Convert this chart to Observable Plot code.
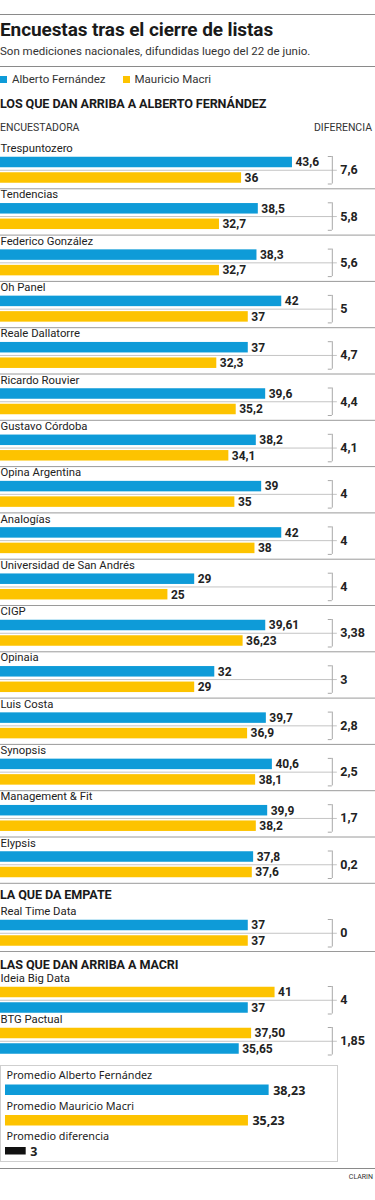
<!DOCTYPE html>
<html><head><meta charset="utf-8">
<script src="https://cdn.jsdelivr.net/npm/d3@7"></script>
<script src="https://cdn.jsdelivr.net/npm/@observablehq/plot@0.6"></script>
<style>
body{margin:0;background:#fff;font-family:Roboto,"Noto Sans",sans-serif;color:#222;}
#root{position:relative;width:375px;height:1200px;overflow:hidden;}
.abs{position:absolute;left:0;white-space:nowrap;}
.rule{position:absolute;left:0;width:375px;height:0;border-top:1px solid #8a8a8a;}
.title{font-size:19px;font-weight:700;line-height:24px;letter-spacing:-0.1px;color:#1a1a1a;}
.sub{font-size:11.5px;line-height:16px;color:#333;}
.legend{font-size:11.5px;line-height:14px;color:#333;}
.sw{display:inline-block;width:7px;height:7px;margin-right:5px;vertical-align:0px;}
.head{font-size:12.6px;font-weight:700;line-height:16px;letter-spacing:-0.1px;color:#1a1a1a;}
.col{font-size:10.5px;line-height:14px;color:#333;}
.box{position:absolute;left:0;border:1px solid #cfcfcf;box-sizing:border-box;}
svg{display:block;}
</style></head><body><div id="root"></div>
<script>
// ---- data ----
const seriesNames = ["Alberto Fernández", "Mauricio Macri"];
const seriesColors = ["#0e9bd8", "#fdc300"];

const pollstersAF = ["Trespuntozero","Tendencias","Federico González","Oh Panel","Reale Dallatorre","Ricardo Rouvier","Gustavo Córdoba","Opina Argentina","Analogías","Universidad de San Andrés","CIGP","Opinaia","Luis Costa","Synopsis","Management & Fit","Elypsis"];
const fernandezAF = [43.6, 38.5, 38.3, 42, 37, 39.6, 38.2, 39, 42, 29, 39.61, 32, 39.7, 40.6, 39.9, 37.8];
const macriAF     = [36, 32.7, 32.7, 37, 32.3, 35.2, 34.1, 35, 38, 25, 36.23, 29, 36.9, 38.1, 38.2, 37.6];

const pollstersTie = ["Real Time Data"];
const fernandezTie = [37];
const macriTie     = [37];

const pollstersMM = ["Ideia Big Data", "BTG Pactual"];
const fernandezMM = [37, 35.65];
const macriMM     = [41, 37.5];
const decimalsMM  = [null, 2];

const averageLabels = ["Promedio Alberto Fernández", "Promedio Mauricio Macri", "Promedio diferencia"];
const averageValues = [38.23, 35.23, 3];

const sectionTitles = ["LOS QUE DAN ARRIBA A ALBERTO FERNÁNDEZ", "LA QUE DA EMPATE", "LAS QUE DAN ARRIBA A MACRI"];

// ---- helpers ----
const fmt = (v, d) => (d == null ? String(+v.toFixed(2)) : v.toFixed(d)).replace(".", ",");
const root = document.getElementById("root");
function place(html, cls, top, extra = "") {
  const el = document.createElement("div");
  el.className = "abs " + cls;
  el.style.cssText = `top:${top}px;${extra}`;
  el.innerHTML = html;
  root.appendChild(el);
  return el;
}
function rule(top) { const r = document.createElement("div"); r.className = "rule"; r.style.top = top + "px"; root.appendChild(r); }

const BRACKET = 49.55;   // x position (data units) of the difference bracket
const FONT = "Roboto, 'Noto Sans', sans-serif";

function section({names, fer, mac, decimals, order, pitch, separators, top}) {
  const n = names.length;
  const rows = names.map((name, i) => ({
    i, name,
    diff: fmt(Math.abs(fer[i] - mac[i]), null)
  }));
  const bars = [];
  rows.forEach(r => order.forEach((s, k) => {
    const v = s === 0 ? fer[r.i] : mac[r.i];
    bars.push({i: r.i, k, serie: seriesNames[s], v, label: fmt(v, decimals ? decimals[r.i] : null)});
  }));
  const off = {label: 6, bar: [20, 35.5], half: 5.25};
  const Y = px => d => d.i + px / pitch;
  const barC = d => d.i + off.bar[d.k] / pitch;
  const mid = Y((off.bar[0] + off.bar[1]) / 2);
  const bTop = Y(off.bar[0] - 6), bBot = Y(off.bar[1] + 6);
  const marks = [];
  if (separators) marks.push(Plot.ruleY(rows, {y: d => d.i + 1, stroke: "#9a9a9a", strokeWidth: 1}));
  marks.push(
    Plot.ruleY(rows, {y: mid, x1: 0, x2: BRACKET + 0.75, stroke: "#c4c4c4"}),
    Plot.rect(bars, {x1: 0, x2: "v", y1: d => barC(d) - off.half / pitch, y2: d => barC(d) + off.half / pitch, fill: "serie"}),
    Plot.text(bars, {x: "v", y: barC, text: "label", textAnchor: "start", dx: 3, fontWeight: "bold", fontSize: 12, fill: "#222"}),
    Plot.ruleX(rows, {x: BRACKET, y1: bTop, y2: bBot, stroke: "#a8a8a8"}),
    Plot.ruleY(rows, {y: bTop, x1: BRACKET - 0.6, x2: BRACKET, stroke: "#a8a8a8"}),
    Plot.ruleY(rows, {y: bBot, x1: BRACKET - 0.6, x2: BRACKET, stroke: "#a8a8a8"}),
    Plot.text(rows, {x: BRACKET, y: mid, text: "diff", textAnchor: "start", dx: 8, fontWeight: "bold", fontSize: 12.5, fill: "#222"}),
    Plot.text(rows, {x: 0, y: Y(off.label), text: "name", textAnchor: "start", fontSize: 11.3, fill: "#222"})
  );
  const svg = Plot.plot({
    width: 375, height: Math.ceil(n * pitch) + 1, margin: 0,
    style: {fontFamily: FONT, background: "transparent", overflow: "visible"},
    x: {domain: [0, 56], range: [0, 375], axis: null},
    y: {domain: [0, n], range: [0, n * pitch], axis: null},
    color: {domain: seriesNames, range: seriesColors},
    marks
  });
  svg.style.position = "absolute"; svg.style.left = "0px"; svg.style.top = top + "px";
  root.appendChild(svg);
}

// ---- header ----
rule(14);
place("Encuestas tras el cierre de listas", "title", 18);
place("Son mediciones nacionales, difundidas luego del 22 de junio.", "sub", 43);
rule(66);
place(`<span class="sw" style="background:${seriesColors[0]}"></span>${seriesNames[0]}<span class="sw" style="background:${seriesColors[1]};margin-left:17px"></span>${seriesNames[1]}`, "legend", 72);
place(sectionTitles[0], "head", 96);
place("ENCUESTADORA", "col", 121);
place("DIFERENCIA", "col", 121, "left:auto;right:3px;");

section({names: pollstersAF, fer: fernandezAF, mac: macriAF, order: [0, 1], pitch: 46.3, separators: true, top: 142});
place(sectionTitles[1], "head", 887);
section({names: pollstersTie, fer: fernandezTie, mac: macriTie, order: [0, 1], pitch: 46, separators: true, top: 905});
place(sectionTitles[2], "head", 957);
section({names: pollstersMM, fer: fernandezMM, mac: macriMM, decimals: decimalsMM, order: [1, 0], pitch: 41, separators: false, top: 972});

// ---- averages box ----
const box = document.createElement("div");
box.className = "box";
box.style.cssText = "top:1065px;width:338px;height:97px;";
root.appendChild(box);
const avg = averageLabels.map((label, i) => ({i, label, v: averageValues[i], value: fmt(averageValues[i], null)}));
const avgColors = [seriesColors[0], seriesColors[1], "#111"];
const P = 30.5;
const avgSvg = Plot.plot({
  width: 338, height: 95, margin: 0,
  style: {fontFamily: FONT, background: "transparent", overflow: "visible"},
  x: {domain: [0, 48], range: [5, 336], axis: null},
  y: {domain: [0, 3], range: [0, 3 * P], axis: null},
  marks: [
    Plot.rect(avg, {x1: 0, x2: "v", y1: d => d.i + (d.i === 2 ? 20 : 18.5) / P, y2: d => d.i + (d.i === 2 ? 27.5 : 29) / P, fill: d => avgColors[d.i]}),
    Plot.text(avg, {x: "v", y: d => d.i + 24 / P, text: "value", textAnchor: "start", dx: 4, fontWeight: "bold", fontSize: 12.5, fill: "#222"}),
    Plot.text(avg, {x: 0, y: d => d.i + 9.5 / P, text: "label", textAnchor: "start", dx: 1, fontSize: 10.8, fill: "#222"})
  ]
});
avgSvg.style.cssText = "position:absolute;left:0;top:1066px;";
root.appendChild(avgSvg);

rule(1168);
place("CLARIN", "col", 1171, "left:auto;right:2px;font-size:7px;line-height:12px;");
</script>
</body></html>
